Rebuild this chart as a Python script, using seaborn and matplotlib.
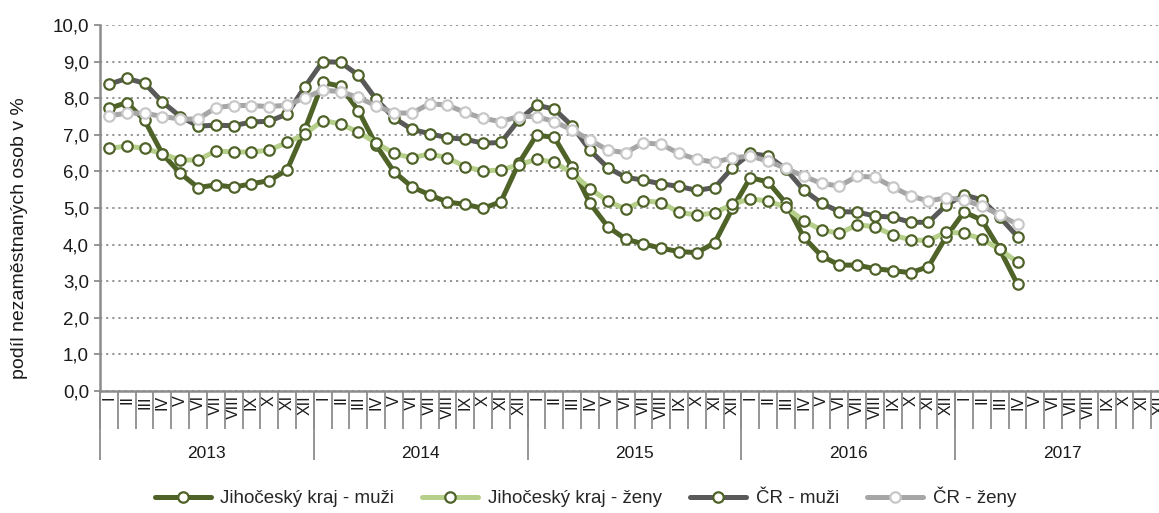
import matplotlib
matplotlib.use("Agg")
import matplotlib.pyplot as plt
import seaborn as sns
import pandas as pd
import numpy as np

# data: monthly values Jan 2013 - Apr 2017 (podíl nezaměstnaných osob, %)
months = ["I", "II", "III", "IV", "V", "VI", "VII", "VIII", "IX", "X", "XI", "XII"]
years = ["2013", "2014", "2015", "2016", "2017"]

jc_muzi = [7.72, 7.88, 7.40, 6.48, 5.95, 5.56, 5.63, 5.57, 5.66, 5.75, 6.04, 7.15,
           8.43, 8.33, 7.66, 6.72, 5.99, 5.58, 5.36, 5.16, 5.10, 4.99, 5.17, 6.22,
           6.99, 6.93, 6.11, 5.13, 4.49, 4.15, 4.02, 3.90, 3.81, 3.78, 4.05, 4.99,
           5.83, 5.71, 5.13, 4.20, 3.69, 3.44, 3.44, 3.34, 3.29, 3.23, 3.40, 4.22,
           4.89, 4.67, 3.87, 2.91]
jc_zeny = [6.63, 6.69, 6.63, 6.48, 6.31, 6.31, 6.56, 6.53, 6.53, 6.58, 6.79, 7.02,
           7.39, 7.30, 7.07, 6.78, 6.49, 6.37, 6.48, 6.37, 6.13, 6.01, 6.04, 6.18,
           6.33, 6.25, 5.95, 5.53, 5.19, 4.97, 5.20, 5.15, 4.88, 4.81, 4.86, 5.11,
           5.25, 5.19, 5.02, 4.65, 4.40, 4.31, 4.54, 4.49, 4.26, 4.13, 4.11, 4.34,
           4.31, 4.15, 3.87, 3.52]
cr_muzi = [8.38, 8.54, 8.41, 7.90, 7.50, 7.24, 7.26, 7.25, 7.35, 7.37, 7.57, 8.31,
           9.00, 8.98, 8.63, 7.97, 7.46, 7.15, 7.03, 6.92, 6.88, 6.77, 6.79, 7.40,
           7.81, 7.70, 7.24, 6.58, 6.10, 5.84, 5.76, 5.66, 5.59, 5.48, 5.56, 6.10,
           6.49, 6.42, 6.06, 5.49, 5.13, 4.90, 4.89, 4.78, 4.75, 4.61, 4.61, 5.08,
           5.36, 5.22, 4.75, 4.22]
cr_zeny = [7.52, 7.59, 7.59, 7.50, 7.43, 7.43, 7.74, 7.80, 7.80, 7.77, 7.81, 8.01,
           8.22, 8.18, 8.02, 7.79, 7.60, 7.59, 7.85, 7.81, 7.61, 7.45, 7.36, 7.50,
           7.50, 7.36, 7.13, 6.86, 6.58, 6.51, 6.78, 6.74, 6.49, 6.33, 6.25, 6.37,
           6.42, 6.28, 6.08, 5.87, 5.67, 5.60, 5.87, 5.84, 5.57, 5.33, 5.19, 5.28,
           5.22, 5.05, 4.81, 4.55]

series = {
    "Jihočeský kraj - muži": jc_muzi,
    "Jihočeský kraj - ženy": jc_zeny,
    "ČR - muži": cr_muzi,
    "ČR - ženy": cr_zeny,
}
line_colors = ["#4F6228", "#B6D08C", "#595959", "#A6A6A6"]
edge_colors = ["#4F6228", "#4F6228", "#4F6228", "#C8C8C8"]

df = pd.DataFrame(series)
df["m"] = np.arange(len(df))

sns.set_style("white")
plt.rcParams["font.family"] = ["Liberation Sans", "DejaVu Sans"]

fig = plt.figure(figsize=(11.59, 5.13), dpi=100)
ax = fig.add_axes([100 / 1159, 1 - 391 / 513, 1069 / 1159, 366 / 513])

for k, name in enumerate(series):
    sns.lineplot(data=df, x="m", y=name, ax=ax, color=line_colors[k], linewidth=3.6,
                 marker="o", markersize=7.5, markerfacecolor="white",
                 markeredgecolor=edge_colors[k], markeredgewidth=1.6,
                 label=name, zorder=3 + k, clip_on=False)

# y axis
ax.set_ylim(0, 10)
ax.set_yticks(np.arange(0, 11, 1))
ax.set_yticklabels([f"{v:.1f}".replace(".", ",") for v in np.arange(0, 11, 1)],
                   fontsize=13.5, color="#1a1a1a")
ax.yaxis.grid(True, linestyle=(0, (1.2, 2.2)), color="#8c8c8c", linewidth=1.3)
ax.set_axisbelow(True)
ax.tick_params(axis="y", length=4, width=1.3, color="#8c8c8c", pad=4, direction="out", left=True)

# x axis: months + year separators (the last months run past the right edge, as in the source)
n = len(months) * len(years)
ax.set_xlim(-0.5, n - 0.5)
ax.set_xticks(np.arange(n))
ax.set_xticklabels(months * len(years), rotation=90, fontsize=11.5, color="#1a1a1a")
ax.tick_params(axis="x", which="major", length=0, pad=3)
ax.set_xticks(np.arange(-0.5, n, 1), minor=True)
ax.tick_params(axis="x", which="minor", length=27, width=1.3, color="#8c8c8c",
               direction="out", bottom=True)
ax.vlines(np.arange(-0.5, n, 12), 0, -69 / 366, transform=ax.get_xaxis_transform(),
          color="#8c8c8c", linewidth=1.3, clip_on=False)
for j, yr in enumerate(years):
    ax.text(j * 12 + 5.5, -62 / 366, yr, transform=ax.get_xaxis_transform(),
            ha="center", va="center", fontsize=12.5, color="#1a1a1a")

ax.set_xlabel("")
ax.set_ylabel("")
fig.text(20 / 1159, 1 - 238 / 513, "podíl nezaměstnaných osob v %", rotation=90,
         ha="center", va="center", fontsize=14, color="#1a1a1a")

sns.despine(ax=ax, top=True, right=True)
for s in ["left", "bottom"]:
    ax.spines[s].set_color("#8c8c8c")
    ax.spines[s].set_linewidth(1.8)

handles, labels = ax.get_legend_handles_labels()
ax.get_legend().remove()
fig.legend(handles, labels, loc="center", bbox_to_anchor=(0.505, 1 - 497 / 513), ncol=4,
           frameon=False, fontsize=13.5, handlelength=3.0, columnspacing=1.5,
           handletextpad=0.5)

fig.savefig("out.png", dpi=100)
